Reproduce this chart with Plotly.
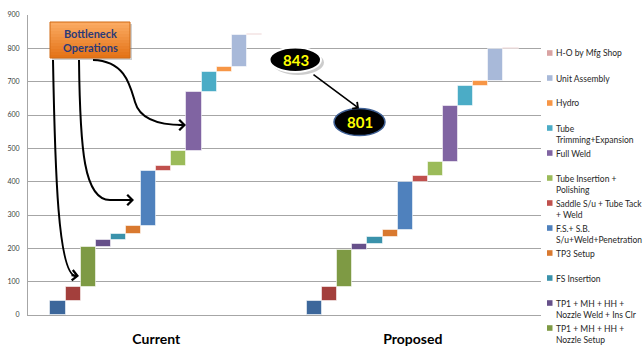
import plotly.graph_objects as go

# ---- data -------------------------------------------------------------
groups = ["Current", "Proposed"]
step_names = [
    "Step 1",
    "Step 2",
    "TP1 + MH + HH + Nozzle Setup",
    "TP1 + MH + HH + Nozzle Weld + Ins Clr",
    "FS Insertion",
    "TP3 Setup",
    "F.S.+ S.B. S/u+Weld+Penetration",
    "Saddle S/u + Tube Tack + Weld",
    "Tube Insertion + Polishing",
    "Full Weld",
    "Tube Trimming+Expansion",
    "Hydro",
    "Unit Assembly",
    "H-O by Mfg Shop",
]
legend_labels = [
    None,
    None,
    "TP1 + MH + HH +<br>Nozzle Setup",
    "TP1 + MH + HH +<br>Nozzle Weld + Ins Clr",
    "FS Insertion",
    "TP3 Setup",
    "F.S.+ S.B.<br>S/u+Weld+Penetration",
    "Saddle S/u + Tube Tack<br>+ Weld",
    "Tube Insertion +<br>Polishing",
    "Full Weld",
    "Tube<br>Trimming+Expansion",
    "Hydro",
    "Unit Assembly",
    "H-O by Mfg Shop",
]
current = [42, 43, 120, 21, 17, 25, 163, 17, 45, 175, 60, 15, 97, 3]
proposed = [43, 42, 111, 17, 20, 23, 144, 17, 43, 167, 60, 15, 95, 4]
y_ticks = [0, 100, 200, 300, 400, 500, 600, 700, 800, 900]

colors = [
    "#3C679B", "#A33F3C", "#7E9A44", "#66508A", "#3A92AB", "#D9792F",
    "#4F81BD", "#C0504D", "#9BBB59", "#8064A2", "#4BACC6", "#F79646",
    "#A8B9D9", "#D9A3A2",
]

# ---- layout geometry (pixels) -----------------------------------------
W, H = 644, 349
L, R, T, B = 28, 541, 15, 315
X_SPAN = 33.93                     # one bar = one x unit
centers = [X_SPAN / 4, 3 * X_SPAN / 4]


def px(x):
    return (x - L) / (R - L)


def py(y):
    return (B - y) / (B - T)


fig = go.Figure()

# floating waterfall steps
cum = [0, 0]
for k, name in enumerate(step_names):
    vals = [current[k], proposed[k]]
    fig.add_trace(go.Bar(
        x=[c - 6.5 + k for c in centers],
        y=vals,
        base=list(cum),
        width=1,
        name=name,
        marker=dict(color=colors[k], line=dict(color="rgba(255,255,255,0.55)", width=1)),
        showlegend=False,
    ))
    cum = [cum[0] + vals[0], cum[1] + vals[1]]

total_cur, total_prop = sum(current), sum(proposed)

shapes = []
annotations = []

# ---- legend (series listed top-down in reverse stacking order) --------
row = 0
for k in range(len(step_names) - 1, -1, -1):
    lab = legend_labels[k]
    if lab is None:
        continue
    yc = 53 + 25 * row
    shapes.append(dict(type="rect", xref="paper", yref="paper",
                       x0=px(547), x1=px(552.5), y0=py(yc + 2.8), y1=py(yc - 2.8),
                       fillcolor=colors[k], line=dict(width=0)))
    annotations.append(dict(xref="paper", yref="paper", x=px(554), y=py(yc - 6.5),
                            xanchor="left", yanchor="top", align="left",
                            text=lab, showarrow=False,
                            font=dict(family="Lato", size=8.5, color="#262626")))
    row += 1

# ---- "Bottleneck Operations" callout -----------------------------------
bx0, bx1, by0, by1 = 50, 130, 22, 58
shapes.append(dict(type="rect", xref="paper", yref="paper",
                   x0=px(bx0 + 2), x1=px(bx1 + 2), y0=py(by1 + 2), y1=py(by0 + 2),
                   fillcolor="rgba(120,120,120,0.35)", line=dict(width=0)))
top_c, bot_c = (251, 170, 98), (228, 116, 24)
n_band = 12
for i in range(n_band):
    f = i / (n_band - 1)
    c = tuple(int(top_c[j] + (bot_c[j] - top_c[j]) * f) for j in range(3))
    y0 = by0 + (by1 - by0) * i / n_band
    y1 = by0 + (by1 - by0) * (i + 1) / n_band
    shapes.append(dict(type="rect", xref="paper", yref="paper",
                       x0=px(bx0), x1=px(bx1), y0=py(y1), y1=py(y0),
                       fillcolor="rgb(%d,%d,%d)" % c, line=dict(width=0)))
shapes.append(dict(type="rect", xref="paper", yref="paper",
                   x0=px(bx0), x1=px(bx1), y0=py(by1), y1=py(by0),
                   fillcolor="rgba(0,0,0,0)", line=dict(color="#D06A14", width=1)))
annotations.append(dict(xref="paper", yref="paper", x=px((bx0 + bx1) / 2), y=py((by0 + by1) / 2),
                        xanchor="center", yanchor="middle",
                        text="<b>Bottleneck<br>Operations</b>", showarrow=False,
                        font=dict(family="Lato", size=11, color="#2B3A78")))


def path(cmds):
    out = []
    for c in cmds:
        if isinstance(c, str):
            out.append(c)
        else:
            out.append("%.5f,%.5f" % (px(c[0]), py(c[1])))
    return " ".join(out)


curves = [
    ["M", (53, 60), "C", (55, 170), (58, 276), (76, 276)],
    ["M", (79, 60), "C", (80, 150), (84, 200), (110, 200), "L", (131, 200)],
    ["M", (93, 60), "C", (125, 61), (130, 85), (135, 102), "C", (140, 120), (160, 125), (183, 125)],
]
for cv in curves:
    shapes.append(dict(type="path", xref="paper", yref="paper", path=path(cv),
                       line=dict(color="black", width=2)))

for (tx, ty, ax, ay) in [(79, 276, -9, -1), (134, 200, -9, 0), (186, 125, -9, 0)]:
    annotations.append(dict(xref="paper", yref="paper", x=px(tx), y=py(ty), ax=ax, ay=ay,
                            text="", showarrow=True, arrowhead=4, arrowsize=1,
                            arrowwidth=2, arrowcolor="black"))

# ---- totals bubbles ------------------------------------------------------
shapes.append(dict(type="circle", xref="paper", yref="paper",
                   x0=px(272), x1=px(324), y0=py(75), y1=py(50),
                   fillcolor="rgba(110,110,110,0.35)", line=dict(width=0)))
shapes.append(dict(type="circle", xref="paper", yref="paper",
                   x0=px(269.5), x1=px(321), y0=py(72), y1=py(47.5),
                   fillcolor="black", line=dict(color="white", width=2)))
shapes.append(dict(type="circle", xref="paper", yref="paper",
                   x0=px(334), x1=px(385), y0=py(135.5), y1=py(108.5),
                   fillcolor="black", line=dict(color="#3E5F94", width=1.5)))
annotations.append(dict(xref="paper", yref="paper", x=px(295.5), y=py(60),
                        xanchor="center", yanchor="middle",
                        text="<b>%d</b>" % total_cur, showarrow=False,
                        font=dict(family="Lato", size=15, color="#FFFF00")))
annotations.append(dict(xref="paper", yref="paper", x=px(359.5), y=py(122),
                        xanchor="center", yanchor="middle",
                        text="<b>%d</b>" % total_prop, showarrow=False,
                        font=dict(family="Lato", size=15, color="#FFFF00")))
annotations.append(dict(xref="paper", yref="paper", x=px(359), y=py(108.5), ax=-47, ay=-35,
                        text="", showarrow=True, arrowhead=4, arrowsize=1,
                        arrowwidth=1.6, arrowcolor="black"))

fig.update_layout(
    width=W, height=H,
    margin=dict(l=L, r=W - R, t=T, b=H - B, pad=0),
    paper_bgcolor="white", plot_bgcolor="white",
    barmode="overlay",
    bargap=0,
    shapes=shapes,
    annotations=annotations,
    showlegend=False,
    xaxis=dict(range=[0, X_SPAN], tickvals=centers, ticktext=groups,
               showgrid=False, zeroline=False, showline=True, linecolor="#A6A6A6",
               ticks="", ticklabelstandoff=11, automargin=False,
               tickfont=dict(family="Lato", size=14, color="black", weight="bold")),
    yaxis=dict(range=[0, 900], tickvals=y_ticks, showgrid=True, gridcolor="#A6A6A6",
               gridwidth=1, zeroline=False, showline=True, linecolor="#A6A6A6",
               ticks="", ticklabelstandoff=6, automargin=False,
               tickfont=dict(family="Lato", size=7, color="#404040")),
)

fig.write_html("out.html")
